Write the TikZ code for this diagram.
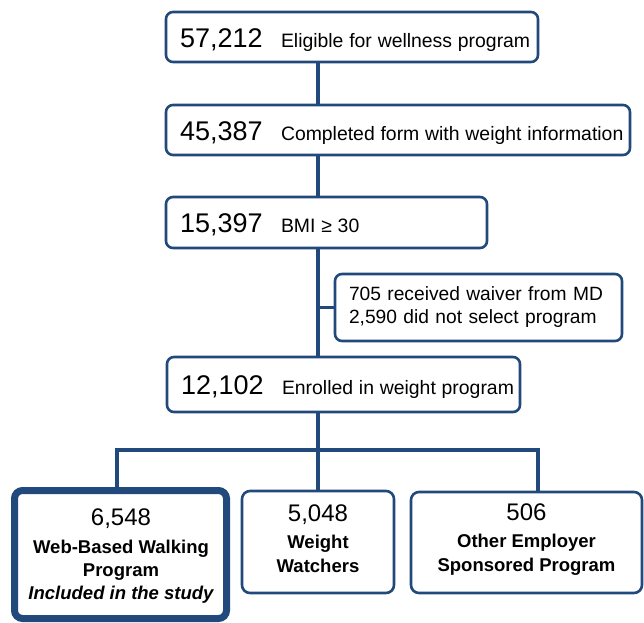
\documentclass[tikz,border=0pt]{standalone}
\usepackage{fontspec}
\setmainfont{Liberation Sans}
\definecolor{bc}{RGB}{33,73,124}
\tikzset{
  box/.style={draw=bc, line width=2.6pt, rounded corners=7pt, fill=white, inner xsep=14pt, inner ysep=0pt, align=left},
  topbox/.style={box, text height=20pt, text depth=0pt},
  subbox/.style={draw=bc, line width=2.6pt, rounded corners=8pt, fill=white},
  subtext/.style={align=center, inner sep=0pt, font=\fontsize{18.5}{23}\selectfont\bfseries},
  conn/.style={draw=bc, line width=3.5pt},
}
\newcommand{\numA}[1]{\makebox[101pt][l]{\fontsize{27}{30}\selectfont #1}}
\newcommand{\txtA}[1]{{\fontsize{19.4}{23}\selectfont\spaceskip=5.8pt #1}}
\newcommand{\numB}[1]{{\mdseries\fontsize{24}{27}\selectfont #1}}
\begin{document}
\begin{tikzpicture}[x=1pt,y=-1pt]
\useasboundingbox (0,0) rectangle (644,622);
\coordinate (sp) at (318,0);
\coordinate (hl) at (117,450);
\coordinate (hr) at (538,450);

\node[topbox, text width=344pt, minimum height=50pt] (b1) at (352,37) {\mbox{\numA{57,212}\txtA{Eligible for wellness program}}};
\node[topbox, text width=436pt, minimum height=50pt] (b2) at (398,130) {\mbox{\numA{45,387}\txtA{Completed form with weight information}}};
\node[topbox, text width=293pt, minimum height=51pt] (b3) at (326.5,222.5) {\mbox{\numA{15,397}\txtA{BMI ≥ 30}}};
\node[box, text width=259pt, minimum height=67pt, font=\fontsize{19.2}{23}\selectfont] (w) at (478.5,307.5) {\mbox{705 received waiver from MD}\\\mbox{2,590 did not select program}};
\node[topbox, text width=325pt, minimum height=55pt] (b5) at (343.5,384.5) {\mbox{\numA{12,102}\txtA{Enrolled in weight program}}};

\node[subbox, line width=7pt, minimum width=212pt, minimum height=128pt] (c1) at (120.5,554.5) {};
\node[subbox, minimum width=152pt, minimum height=102pt] (c2) at (318,542) {};
\node[subbox, minimum width=231pt, minimum height=101pt] (c3) at (526.5,542.5) {};

\node[subtext] (c1t) at (121,556) {\numB{6,548}\\[5pt]Web-Based Walking\\Program\\\itshape Included in the study};
\node[subtext, font=\fontsize{18.5}{24.5}\selectfont\bfseries] (c2t) at (318,539) {\numB{5,048}\\[2pt]Weight\\Watchers};
\node[subtext, font=\fontsize{18.5}{24.5}\selectfont\bfseries] (c3t) at (526.5,540) {\numB{506}\\[2pt]Other Employer\\Sponsored Program};

\path[conn] (b1.south -| sp) -- (b2.north -| sp);
\path[conn] (b2.south -| sp) -- (b3.north -| sp);
\path[conn] (b3.south -| sp) -- (b5.north -| sp);
\path[conn] (w.west) -- (w.west -| sp);
\path[conn] (b5.south -| sp) -- (c2.north -| sp);
\path[conn] (c1.north -| hl) -- (hl) -- (hr) -- (c3.north -| hr);
\end{tikzpicture}
\end{document}
